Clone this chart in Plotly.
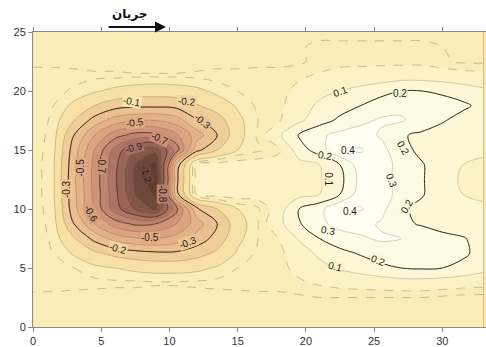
import plotly.graph_objects as go

# Grid coordinates (m)
x_vals = [0, 1.5, 3, 4.5, 6, 7.5, 9, 10.5, 12, 13.5, 15, 16.5, 18, 19.5, 21, 22.5,
          24, 25.5, 27, 28.5, 30, 31.5, 33]
y_vals = [0, 1.25, 2.5, 3.75, 5, 6.25, 7.5, 8.75, 10, 11.25, 12.5, 13.75, 15, 16.25,
          17.5, 18.75, 20, 21.25, 22.5, 23.75, 25]

# Bed change values, one row per y (bottom to top)
z_rows = [
    [-0.09, -0.09, -0.09, -0.09, -0.09, -0.09, -0.09, -0.09, -0.09, -0.09, -0.09, -0.09, -0.09, -0.09, -0.09, -0.09, -0.09, -0.09, -0.09, -0.09, -0.09, -0.09, -0.09],
    [-0.07, -0.07, -0.07, -0.07, -0.07, -0.07, -0.07, -0.07, -0.07, -0.07, -0.07, -0.07, -0.07, -0.07, -0.07, -0.07, -0.07, -0.07, -0.07, -0.07, -0.07, -0.07, -0.07],
    [-0.07, -0.07, -0.07, -0.07, -0.07, -0.07, -0.07, -0.07, -0.07, -0.07, -0.07, -0.07, -0.07, -0.06, -0.05, -0.05, -0.05, -0.05, -0.05, -0.05, -0.06, -0.07, -0.07],
    [-0.02, -0.02, -0.03, -0.035, -0.04, -0.04, -0.045, -0.045, -0.04, -0.035, -0.03, -0.02, -0.02, -0.01, 0.01, 0.03, 0.04, 0.05, 0.06, 0.06, 0.05, 0.04, 0.03],
    [-0.02, -0.03, -0.05, -0.08, -0.1, -0.12, -0.13, -0.13, -0.12, -0.09, -0.05, -0.03, -0.02, 0.02, 0.07, 0.11, 0.14, 0.17, 0.2, 0.21, 0.2, 0.17, 0.13],
    [-0.02, -0.05, -0.11, -0.18, -0.23, -0.26, -0.28, -0.28, -0.24, -0.18, -0.09, -0.04, -0.02, 0.05, 0.12, 0.17, 0.21, 0.26, 0.27, 0.26, 0.24, 0.22, 0.16],
    [-0.02, -0.06, -0.19, -0.33, -0.44, -0.49, -0.5, -0.46, -0.36, -0.26, -0.12, -0.05, 0.0, 0.11, 0.2, 0.26, 0.29, 0.31, 0.3, 0.26, 0.23, 0.21, 0.15],
    [-0.02, -0.07, -0.3, -0.5, -0.65, -0.72, -0.7, -0.6, -0.45, -0.3, -0.14, -0.05, 0.07, 0.19, 0.28, 0.33, 0.33, 0.29, 0.22, 0.19, 0.16, 0.13, 0.11],
    [-0.02, -0.08, -0.36, -0.62, -0.85, -1.02, -1.12, -0.74, -0.32, -0.2, -0.1, -0.06, 0.05, 0.2, 0.27, 0.39, 0.41, 0.33, 0.22, 0.17, 0.14, 0.12, 0.11],
    [-0.02, -0.09, -0.37, -0.63, -0.87, -1.1, -1.22, -0.34, 0.01, 0.03, 0.04, 0.04, 0.05, 0.07, 0.1, 0.2, 0.35, 0.34, 0.27, 0.21, 0.13, 0.1, 0.09],
    [-0.02, -0.09, -0.38, -0.64, -0.88, -1.12, -1.26, -0.33, 0.02, 0.04, 0.05, 0.05, 0.06, 0.08, 0.09, 0.17, 0.33, 0.34, 0.26, 0.21, 0.13, 0.09, 0.08],
    [-0.02, -0.09, -0.37, -0.63, -0.87, -1.1, -1.24, -0.36, 0.01, 0.03, 0.04, 0.04, 0.05, 0.07, 0.1, 0.2, 0.35, 0.34, 0.27, 0.21, 0.13, 0.1, 0.09],
    [-0.02, -0.08, -0.35, -0.6, -0.84, -1.0, -1.06, -0.76, -0.33, -0.2, -0.1, -0.06, -0.02, 0.15, 0.25, 0.39, 0.41, 0.33, 0.24, 0.17, 0.14, 0.12, 0.11],
    [-0.02, -0.07, -0.3, -0.5, -0.66, -0.74, -0.73, -0.62, -0.45, -0.3, -0.13, -0.04, 0.08, 0.21, 0.28, 0.33, 0.34, 0.29, 0.21, 0.18, 0.15, 0.13, 0.11],
    [-0.02, -0.06, -0.2, -0.34, -0.45, -0.49, -0.5, -0.45, -0.31, -0.25, -0.12, -0.05, -0.01, 0.08, 0.16, 0.22, 0.28, 0.31, 0.31, 0.26, 0.21, 0.16, 0.12],
    [-0.02, -0.05, -0.12, -0.2, -0.26, -0.28, -0.28, -0.27, -0.21, -0.15, -0.09, -0.04, -0.02, 0.05, 0.12, 0.16, 0.2, 0.26, 0.28, 0.27, 0.25, 0.22, 0.17],
    [-0.02, -0.03, -0.06, -0.09, -0.12, -0.14, -0.15, -0.14, -0.12, -0.08, -0.05, -0.03, -0.02, 0.02, 0.07, 0.1, 0.13, 0.16, 0.2, 0.2, 0.18, 0.15, 0.12],
    [-0.02, -0.02, -0.03, -0.04, -0.04, -0.045, -0.045, -0.045, -0.04, -0.03, -0.03, -0.02, -0.02, -0.01, 0.01, 0.03, 0.04, 0.05, 0.06, 0.06, 0.05, 0.04, 0.03],
    [-0.07, -0.07, -0.07, -0.07, -0.07, -0.07, -0.07, -0.07, -0.07, -0.07, -0.07, -0.07, -0.07, -0.06, -0.03, -0.02, -0.02, -0.02, -0.02, -0.02, -0.04, -0.06, -0.06],
    [-0.07, -0.07, -0.07, -0.07, -0.07, -0.07, -0.07, -0.07, -0.07, -0.07, -0.07, -0.07, -0.07, -0.06, -0.03, -0.03, -0.03, -0.03, -0.03, -0.03, -0.05, -0.07, -0.07],
    [-0.09, -0.09, -0.09, -0.09, -0.09, -0.09, -0.09, -0.09, -0.09, -0.09, -0.09, -0.09, -0.09, -0.09, -0.08, -0.08, -0.08, -0.08, -0.08, -0.08, -0.09, -0.09, -0.09],
]

# Contour labels: level, x, y, text angle
label_levels = [-0.1, -0.2, -0.3, -0.5, -0.7, -0.9, -1.2, -0.8, -0.7, -0.5, -0.3, -0.6,
                -0.5, -0.3, -0.2, 0.1, 0.2, 0.2, 0.2, 0.4, 0.1, 0.3, 0.2, 0.4, 0.3, 0.2, 0.1]
label_x = [7.25, 11.3, 12.45, 7.5, 9.3, 7.4, 8.3, 9.5, 5.0, 3.5, 2.5, 4.25,
           8.6, 11.35, 6.2, 22.5, 26.9, 27.1, 21.4, 23.1, 21.6, 26.3, 27.4, 23.2, 21.6, 25.3, 22.1]
label_y = [19.1, 19.1, 17.45, 17.3, 16.0, 15.2, 12.9, 11.3, 13.7, 13.5, 11.7, 9.6,
           7.55, 7.15, 6.65, 20.0, 19.8, 15.2, 14.5, 15.0, 12.55, 12.45, 10.2, 9.8, 8.2, 5.65, 5.1]
label_angle = [10, 5, 40, -8, 25, -15, 75, 90, 90, -90, -90, 60,
               0, -20, 15, -20, 0, 60, 10, 0, 90, 70, -60, 0, 10, 20, 15]

# Band colours: each colour fills the band that starts at its value
ramp = [
    (-1.3, "#5c3e30"), (-1.2, "#6c4739"), (-1.1, "#805446"), (-1.0, "#946256"),
    (-0.9, "#a87164"), (-0.8, "#bb806e"), (-0.7, "#cb9076"), (-0.6, "#d89f7d"),
    (-0.5, "#e1ac84"), (-0.4, "#e8b98c"), (-0.3, "#edc694"), (-0.2, "#f2d39d"),
    (-0.1, "#f9e8aa"), (0.0, "#fbefbc"), (0.1, "#fcf3c8"), (0.2, "#fdf8d8"),
    (0.3, "#fefbe6"), (0.4, "#fffef2"), (0.5, "#ffffff"),
]
zmin, zmax = ramp[0][0], ramp[-1][0]
colorscale = [[(v - zmin) / (zmax - zmin), c] for v, c in ramp]


def hex_rgb(h):
    h = h.lstrip("#")
    return tuple(int(h[i:i + 2], 16) for i in (0, 2, 4))


def ramp_color(v):
    for (v0, c0), (v1, c1) in zip(ramp[:-1], ramp[1:]):
        if v0 <= v <= v1:
            t = (v - v0) / (v1 - v0)
            a, b = hex_rgb(c0), hex_rgb(c1)
            return "rgb(%d,%d,%d)" % tuple(round(a[i] + (b[i] - a[i]) * t) for i in range(3))
    return ramp[-1][1]


fig = go.Figure()

# Filled bands
fig.add_trace(go.Contour(
    x=x_vals, y=y_vals, z=z_rows, zmin=zmin, zmax=zmax,
    colorscale=colorscale, showscale=False,
    contours=dict(start=-1.2, end=0.4, size=0.1, coloring="fill"),
    line=dict(width=0, smoothing=1.0), hoverinfo="skip",
))


def line_trace(start, end, size, color, width, dash="solid"):
    return go.Contour(
        x=x_vals, y=y_vals, z=z_rows, showscale=False,
        contours=dict(start=start, end=end, size=size, coloring="none"),
        line=dict(color=color, width=width, dash=dash, smoothing=1.0),
        hoverinfo="skip",
    )


# Thin isolines
fig.add_trace(line_trace(-1.2, -0.1, 0.1, "rgba(120,80,55,0.45)", 0.7))
fig.add_trace(line_trace(0.1, 0.4, 0.1, "rgba(130,125,105,0.5)", 0.7))
# Near-zero isolines
fig.add_trace(line_trace(-0.05, 0.0, 0.05, "rgba(140,130,105,0.6)", 0.8, "dash"))
# Emphasised isolines
fig.add_trace(line_trace(-0.9, -0.7, 0.2, "rgba(60,35,25,0.7)", 0.9))
fig.add_trace(line_trace(-0.3, -0.3, 0.1, "rgba(45,30,20,0.9)", 1.0))
fig.add_trace(line_trace(0.2, 0.2, 0.1, "rgba(40,35,25,0.9)", 1.0))

annotations = []
for lv, lx, ly, ang in zip(label_levels, label_x, label_y, label_angle):
    annotations.append(dict(
        x=lx, y=ly, xref="x", yref="y", text=f"{lv:g}", showarrow=False,
        textangle=ang, font=dict(family="Liberation Sans, Arial", size=10, color="#1a1a1a"),
        bgcolor=ramp_color(lv), borderpad=0,
    ))

# Flow direction
annotations.append(dict(
    x=9.75, y=1.0166, xref="x", yref="paper", ax=-59, ay=0, axref="pixel", ayref="pixel",
    text="", showarrow=True, arrowhead=2, arrowsize=1.1, arrowwidth=2, arrowcolor="#111",
))
annotations.append(dict(
    x=7.1, y=1.06, xref="x", yref="paper", text="<b>جریان</b>", showarrow=False,
    font=dict(family="DejaVu Sans, Noto Sans", size=12, color="#111"),
    xanchor="center", yanchor="middle",
))

axis_common = dict(
    showline=True, linecolor="#8a8a8a", linewidth=1, ticks="outside", ticklen=4,
    tickcolor="#8a8a8a", showgrid=False, zeroline=False,
    tickfont=dict(family="Liberation Sans, Arial", size=11, color="#333"),
)

fig.update_layout(
    width=486, height=347,
    margin=dict(l=33, r=0, t=32, b=14),
    paper_bgcolor="white", plot_bgcolor="#f9e8aa",
    xaxis=dict(range=[0, 33.2], tickvals=[0, 5, 10, 15, 20, 25, 30], mirror="ticks", **axis_common),
    yaxis=dict(range=[0, 25], tickvals=[0, 5, 10, 15, 20, 25], mirror=False, **axis_common),
    annotations=annotations,
    showlegend=False,
)

fig.write_html("out.html")
